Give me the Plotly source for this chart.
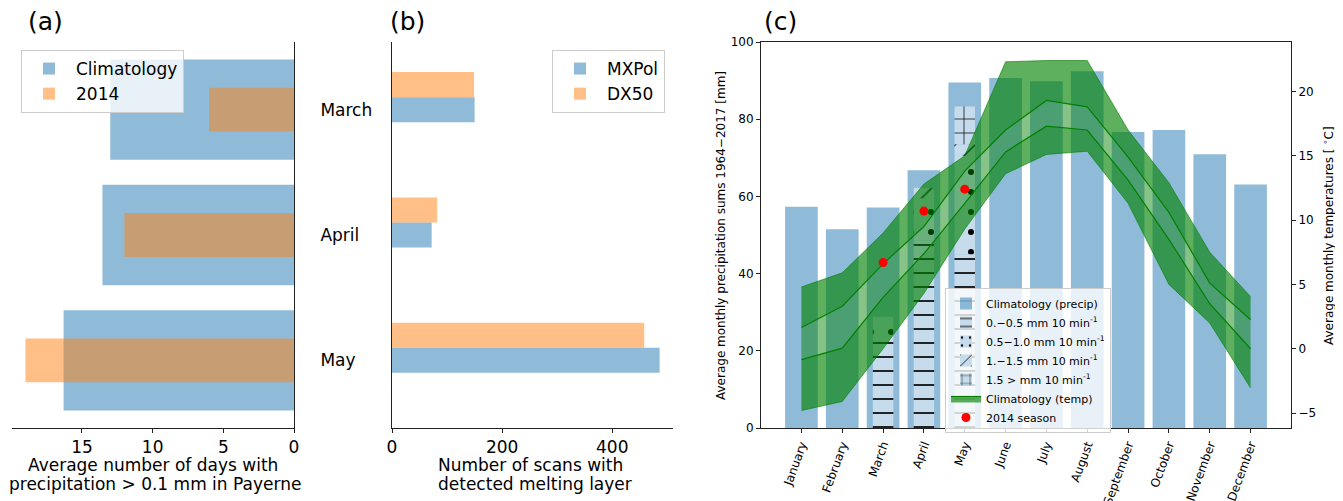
import numpy as np
import plotly.graph_objects as go

W, H = 1343, 501
OFF = 8  # default page body margin of the html page
FW, FH = W - OFF, H - OFF
FONT = "DejaVu Sans"

# ---------------- data ----------------
# Panel (a): days with precipitation > 0.1 mm in Payerne
months_a = ["March", "April", "May"]
clim_days = [13.0, 13.55, 16.3]
days_2014 = [6.0, 12.0, 19.0]

# Panel (b): number of scans with detected melting layer
scans_mxpol = [150, 72, 486]
scans_dx50 = [149, 82, 458]

# Panel (c)
months = ["January", "February", "March", "April", "May", "June", "July",
          "August", "September", "October", "November", "December"]
precip_clim = [57.3, 51.5, 57.1, 66.8, 89.5, 90.7, 89.8, 92.4, 76.7, 77.2, 70.9, 63.1]

hatch_months = ["March", "April", "May"]
rain_0_05 = [22.5, 48.5, 45.0]
rain_05_10 = [6.3, 11.0, 25.5]
rain_10_15 = [0.0, 2.7, 3.0]
rain_15_up = [0.0, 0.0, 9.8]

temp_band_low = [-4.8, -4.1, 0.0, 4.3, 9.3, 13.6, 15.1, 15.35, 11.3, 5.0, 2.0, -3.05]
temp_low = [-0.85, 0.05, 4.0, 7.4, 11.3, 15.3, 17.3, 17.0, 13.1, 8.5, 3.5, 0.0]
temp_high = [1.65, 3.3, 6.6, 9.5, 13.8, 17.0, 19.3, 18.8, 14.9, 10.6, 5.1, 2.25]
temp_band_high = [4.8, 5.9, 9.0, 12.8, 15.0, 22.3, 22.4, 22.4, 17.0, 12.9, 7.5, 4.05]

temp_2014 = [6.7, 10.7, 12.4]

# ---------------- styles ----------------
BLUE_A = "rgba(31,119,180,0.5)"
ORANGE_A = "rgba(255,127,14,0.5)"
INNER = "#c6dcec"
GREEN_EDGE = "rgba(0,128,0,0.6)"
GREEN_OUT = "rgba(0,128,0,0.63)"
GREEN_MID = "rgba(0,128,0,0.47)"
AXC = "#222222"


def px_x(p):
    return (p - OFF) / FW


def px_y(p):
    return 1 - (p - OFF) / FH


fig = go.Figure()

# ---- panel (a)
fig.add_trace(go.Bar(y=months_a, x=clim_days, orientation="h", width=0.8,
                     marker=dict(color=BLUE_A, line=dict(width=0)),
                     name="Climatology", xaxis="x", yaxis="y", legend="legend"))
fig.add_trace(go.Bar(y=months_a, x=days_2014, orientation="h", width=0.35,
                     marker=dict(color=ORANGE_A, line=dict(width=0)),
                     name="2014", xaxis="x", yaxis="y", legend="legend"))

# ---- panel (b)
fig.add_trace(go.Bar(y=months_a, x=scans_mxpol, orientation="h", width=0.2, offset=-0.1,
                     marker=dict(color=BLUE_A, line=dict(width=0)),
                     name="MXPol", xaxis="x2", yaxis="y2", legend="legend2"))
fig.add_trace(go.Bar(y=months_a, x=scans_dx50, orientation="h", width=0.2, offset=-0.3,
                     marker=dict(color=ORANGE_A, line=dict(width=0)),
                     name="DX50", xaxis="x2", yaxis="y2", legend="legend2"))

# ---- panel (c): precipitation climatology
fig.add_trace(go.Bar(x=months, y=precip_clim, width=0.8,
                     marker=dict(color=BLUE_A, line=dict(width=0)),
                     name="Climatology (precip)", xaxis="x3", yaxis="y3", legend="legend3"))

segs = np.array([rain_0_05, rain_05_10, rain_10_15, rain_15_up])
bases = np.vstack([np.zeros(segs.shape[1]), np.cumsum(segs, axis=0)[:-1]])
seg_names = ["0.\u22120.5 mm 10 min<sup>-1</sup>", "0.5\u22121.0 mm 10 min<sup>-1</sup>",
             "1.\u22121.5 mm 10 min<sup>-1</sup>", "1.5 > mm 10 min<sup>-1</sup>"]
seg_shapes = ["-", ".", "/", "+"]
seg_size = [14, 20, 14, 14]
seg_solid = [0.12, 0.07, 0.1, 0.1]
for k in range(4):
    fig.add_trace(go.Bar(
        x=hatch_months, y=segs[k], base=bases[k], width=0.5,
        marker=dict(color=INNER, line=dict(width=0),
                    pattern=dict(shape=seg_shapes[k], fgcolor="black", bgcolor=INNER,
                                 fillmode="replace", size=seg_size[k],
                                 solidity=seg_solid[k])),
        name=seg_names[k], xaxis="x3", yaxis="y3", legend="legend3"))

# ---- panel (c): temperature band (right axis)
fig.add_trace(go.Scatter(x=months, y=temp_band_low, mode="lines",
                         line=dict(color=GREEN_EDGE, width=1), showlegend=False,
                         xaxis="x3", yaxis="y4", legend="legend3", legendgroup="temp"))
fig.add_trace(go.Scatter(x=months, y=temp_low, mode="lines", fill="tonexty",
                         fillcolor=GREEN_OUT, line=dict(color="green", width=1.2),
                         name="Climatology (temp)", showlegend=True,
                         xaxis="x3", yaxis="y4", legend="legend3", legendgroup="temp"))
fig.add_trace(go.Scatter(x=months, y=temp_high, mode="lines", fill="tonexty",
                         fillcolor=GREEN_MID, line=dict(color="green", width=1.2),
                         showlegend=False, xaxis="x3", yaxis="y4", legend="legend3",
                         legendgroup="temp"))
fig.add_trace(go.Scatter(x=months, y=temp_band_high, mode="lines", fill="tonexty",
                         fillcolor=GREEN_OUT, line=dict(color=GREEN_EDGE, width=1),
                         showlegend=False, xaxis="x3", yaxis="y4", legend="legend3",
                         legendgroup="temp"))
fig.add_trace(go.Scatter(x=hatch_months, y=temp_2014, mode="markers",
                         marker=dict(color="red", size=9),
                         name="2014 season", xaxis="x3", yaxis="y4", legend="legend3"))

# ---------------- layout ----------------
ydom = [px_y(428), px_y(42)]
common_tick = dict(ticks="outside", ticklen=4, tickwidth=1, tickcolor=AXC,
                   showgrid=False, zeroline=False, showline=True, linecolor=AXC,
                   linewidth=1, automargin=False)

fig.update_layout(
    width=FW, height=FH,
    margin=dict(l=0, r=0, t=0, b=0, autoexpand=False),
    paper_bgcolor="white", plot_bgcolor="rgba(0,0,0,0)",
    font=dict(family=FONT, color="black"),
    barmode="overlay",
    xaxis=dict(domain=[px_x(12), px_x(294)], range=[19.95, 0], anchor="y",
               tickvals=[0, 5, 10, 15], tickfont=dict(size=17), **common_tick),
    yaxis=dict(domain=ydom, type="category", categoryarray=months_a,
               range=[2.54, -0.54], anchor="x", side="right", ticks="",
               showline=True, linecolor=AXC, linewidth=1, showgrid=False,
               zeroline=False, tickfont=dict(size=17), ticklabelstandoff=22,
               automargin=False),
    xaxis2=dict(domain=[px_x(392), px_x(673)], range=[0, 510.3], anchor="y2",
                tickvals=[0, 200, 400], tickfont=dict(size=17), **common_tick),
    yaxis2=dict(domain=ydom, type="category", categoryarray=months_a,
                range=[2.54, -0.54], anchor="x2", side="left", ticks="",
                showticklabels=False, showline=True, linecolor=AXC, linewidth=1,
                showgrid=False, zeroline=False, automargin=False),
    xaxis3=dict(domain=[px_x(761), px_x(1291)], type="category", categoryarray=months,
                range=[-0.99, 11.99], anchor="y3", tickangle=-70, mirror=True,
                tickfont=dict(size=12), **common_tick),
    yaxis3=dict(domain=ydom, range=[0, 100], dtick=20, anchor="x3",
                tickfont=dict(size=12), **common_tick),
    yaxis4=dict(overlaying="y3", side="right", anchor="x3", range=[-6.16, 23.84],
                tickvals=[-5, 0, 5, 10, 15, 20], tickfont=dict(size=12), **common_tick),
    legend=dict(x=px_x(21), y=px_y(50), xanchor="left", yanchor="top",
                font=dict(size=17), bgcolor="rgba(255,255,255,0.8)",
                bordercolor="#cccccc", borderwidth=1, traceorder="normal",
                itemwidth=44),
    legend2=dict(x=px_x(552), y=px_y(50), xanchor="left", yanchor="top",
                 font=dict(size=17), bgcolor="rgba(255,255,255,0.8)",
                 bordercolor="#cccccc", borderwidth=1, traceorder="normal",
                 itemwidth=44),
    legend3=dict(x=px_x(945), y=px_y(288), xanchor="left", yanchor="top",
                 font=dict(size=11), bgcolor="rgba(255,255,255,0.8)",
                 bordercolor="#cccccc", borderwidth=1, traceorder="normal",
                 tracegroupgap=0),
)

ann = []


def text(x, y, s, size, angle=0):
    ann.append(dict(x=px_x(x), y=px_y(y), xref="paper", yref="paper", text=s,
                    showarrow=False, xanchor="center", yanchor="middle",
                    font=dict(size=size, family=FONT, color="black"), textangle=angle))


text(45, 22, "(a)", 25)
text(407, 22, "(b)", 25)
text(780, 22, "(c)", 25)
text(153, 465, "Average number of days with", 17)
text(155, 484, "precipitation > 0.1 mm in Payerne", 17)
text(530, 465, "Number of scans with", 17)
text(535, 484, "detected melting layer", 17)
text(721, 235, "Average monthly precipitation sums 1964\u22122017 [mm]", 12, -90)
text(1328, 236, "Average monthly temperatures [ <sup>\u2218</sup>C]", 12, -90)
fig.update_layout(annotations=ann)

fig.write_html("out.html")
